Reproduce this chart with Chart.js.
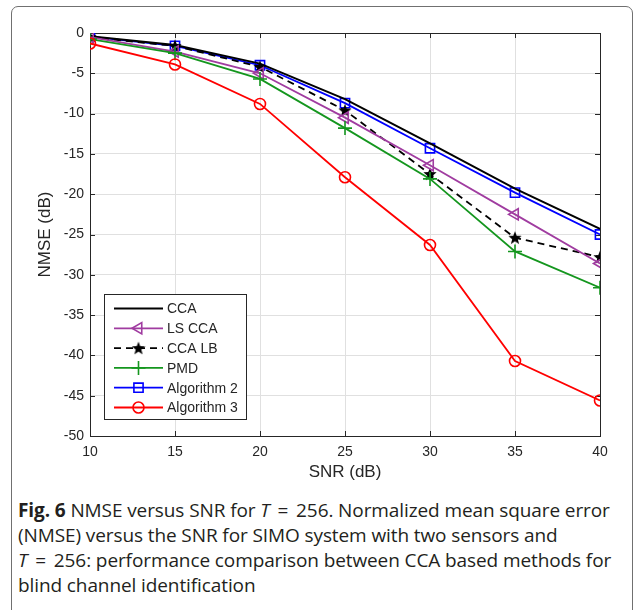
<!DOCTYPE html>
<html>
<head>
<meta charset="utf-8">
<script src="https://cdn.jsdelivr.net/npm/chart.js@4"></script>
<style>
    body { margin: 0; background: #fff; }
    .page { position: relative; width: 633px; height: 610px; overflow: hidden; }
    .frame {
        position: absolute; left: 11px; top: 6px; width: 620px; height: 700px;
        border: 1.5px solid #707070; border-radius: 7px;
    }
    #chartBox { position: absolute; left: 0; top: 0; width: 633px; height: 490px; }
    .caption {
        position: absolute; left: 18px; top: 498px;
        font-family: "Open Sans", "Noto Sans", sans-serif; font-size: 19px; line-height: 25px;
        letter-spacing: -0.1px;
        color: #231f20; white-space: nowrap;
    }
    .caption b { font-weight: 700; }
    .caption .eq { padding: 0 3px; }
</style>
</head>
<body>
<div class="page">
    <div class="frame"></div>
    <div id="chartBox"><canvas id="nmseChart" width="633" height="490"></canvas></div>
    <div class="caption">
        <b>Fig. 6</b> NMSE versus SNR for <i>T</i> <span class="eq">=</span> 256. Normalized mean square error<br>
        (NMSE) versus the SNR for SIMO system with two sensors and<br>
        <i>T</i> <span class="eq">=</span> 256: performance comparison between CCA based methods for<br>
        blind channel identification
    </div>
</div>
<script>
// Data
const snr = [10, 15, 20, 25, 30, 35, 40];
const cca = [-0.4, -1.5, -3.8, -8.2, -13.7, -19.3, -24.3];
const lsCca = [-0.5, -2.3, -5.0, -10.5, -16.4, -22.5, -28.6];
const ccaLb = [-0.5, -1.6, -4.2, -9.6, -17.5, -25.4, -27.8];
const pmd = [-0.75, -2.5, -5.7, -11.8, -18.1, -27.1, -31.6];
const alg2 = [-0.45, -1.6, -4.0, -8.7, -14.3, -19.8, -25.0];
const alg3 = [-1.3, -3.9, -8.8, -17.9, -26.3, -40.7, -45.6];
const yTicks = [0, -5, -10, -15, -20, -25, -30, -35, -40, -45, -50];
const xTicks = [10, 15, 20, 25, 30, 35, 40];

const FONT = '"Liberation Sans", Arial, sans-serif';
const AXIS_COLOR = '#262626';

// filled 5-point star marker
function makeStar(size) {
    const c = document.createElement('canvas');
    c.width = size; c.height = size;
    const g = c.getContext('2d');
    const cx = size / 2, cy = size / 2 + 0.5, R = size / 2, r = R * 0.42;
    g.beginPath();
    for (let i = 0; i < 10; i++) {
        const rad = i % 2 === 0 ? R : r;
        const a = -Math.PI / 2 + i * Math.PI / 5;
        g.lineTo(cx + rad * Math.cos(a), cy + rad * Math.sin(a));
    }
    g.closePath();
    g.fillStyle = '#000';
    g.fill();
    return c;
}
const starImg = makeStar(14);

const toPoints = (vals) => vals.map((v, i) => ({ x: snr[i], y: v }));

function series(label, vals, color, extra) {
    return Object.assign({
        label: label,
        data: toPoints(vals),
        borderColor: color,
        backgroundColor: 'rgba(0,0,0,0)',
        pointBorderColor: color,
        pointBackgroundColor: 'rgba(0,0,0,0)',
        borderWidth: 1.8,
        pointBorderWidth: 1.6,
        pointRadius: 5.5,
        tension: 0
    }, extra);
}

const datasets = [
    series('Algorithm 3', alg3, '#ff0000', { pointStyle: 'circle', pointRadius: 5.5 }),
    series('PMD', pmd, '#14961e', { pointStyle: 'cross', pointRadius: 7 }),
    series('LS CCA', lsCca, '#a03ca0', { pointStyle: 'triangle', rotation: -90, pointRadius: 6.5 }),
    series('CCA LB', ccaLb, '#000000', { pointStyle: starImg, borderDash: [7, 5] }),
    series('CCA', cca, '#000000', { pointRadius: 0, borderWidth: 2 }),
    series('Algorithm 2', alg2, '#0000ff', { pointStyle: 'rect', pointRadius: 6.5 })
];
const legendOrder = ['CCA', 'LS CCA', 'CCA LB', 'PMD', 'Algorithm 2', 'Algorithm 3'];

// MATLAB-like box with inward ticks
const boxPlugin = {
    id: 'boxPlugin',
    beforeDatasetsDraw(chart) {
        const { ctx, chartArea: a, scales } = chart;
        ctx.save();
        ctx.strokeStyle = AXIS_COLOR;
        ctx.lineWidth = 1;
        ctx.strokeRect(a.left + 0.5, a.top + 0.5, a.right - a.left, a.bottom - a.top);
        const t = 5;
        ctx.beginPath();
        xTicks.forEach(v => {
            const x = Math.round(scales.x.getPixelForValue(v)) + 0.5;
            ctx.moveTo(x, a.bottom); ctx.lineTo(x, a.bottom - t);
            ctx.moveTo(x, a.top); ctx.lineTo(x, a.top + t);
        });
        yTicks.forEach(v => {
            const y = Math.round(scales.y.getPixelForValue(v)) + 0.5;
            ctx.moveTo(a.left, y); ctx.lineTo(a.left + t, y);
            ctx.moveTo(a.right, y); ctx.lineTo(a.right - t, y);
        });
        ctx.stroke();
        ctx.restore();
    },
    afterDatasetsDraw(chart) {
        // legend box in lower-left corner
        const { ctx } = chart;
        const bx = 104.5, by = 294.5, bw = 142, bh = 125, rowH = 19.8;
        ctx.save();
        ctx.fillStyle = '#fff';
        ctx.fillRect(bx, by, bw, bh);
        ctx.strokeStyle = AXIS_COLOR;
        ctx.lineWidth = 1;
        ctx.strokeRect(bx, by, bw, bh);
        ctx.font = '14px ' + FONT;
        ctx.textBaseline = 'middle';
        legendOrder.forEach((name, i) => {
            const idx = chart.data.datasets.findIndex(d => d.label === name);
            const ds = chart.data.datasets[idx];
            const y = by + 14 + i * rowH;
            ctx.save();
            ctx.strokeStyle = ds.borderColor;
            ctx.lineWidth = ds.borderWidth;
            ctx.setLineDash(ds.borderDash || []);
            ctx.beginPath();
            ctx.moveTo(114, y); ctx.lineTo(163, y);
            ctx.stroke();
            ctx.setLineDash([]);
            if (ds.pointRadius > 0) {
                ctx.lineWidth = ds.pointBorderWidth;
                ctx.fillStyle = ds.pointBackgroundColor;
                Chart.helpers.drawPoint(ctx, {
                    pointStyle: ds.pointStyle,
                    rotation: ds.rotation || 0,
                    radius: ds.pointRadius,
                    borderWidth: ds.pointBorderWidth
                }, 138.5, y);
            }
            ctx.restore();
            ctx.fillStyle = AXIS_COLOR;
            ctx.fillText(name, 167, y + 1);
        });
        ctx.restore();
    }
};

new Chart(document.getElementById('nmseChart'), {
    type: 'line',
    data: { datasets: datasets },
    plugins: [boxPlugin],
    options: {
        responsive: false,
        animation: false,
        layout: { padding: { top: 33, right: 33, left: 0, bottom: 0 } },
        plugins: { legend: { display: false }, tooltip: { enabled: false } },
        scales: {
            x: {
                type: 'linear', min: 10, max: 40,
                afterFit: (s) => { s.height = 54; },
                afterBuildTicks: (s) => { s.ticks = xTicks.map(v => ({ value: v })); },
                grid: { color: '#e0e0e0', drawTicks: false },
                border: { display: false },
                ticks: { color: AXIS_COLOR, font: { family: FONT, size: 14 }, padding: 8, maxRotation: 0 },
                title: { display: true, text: 'SNR (dB)', color: AXIS_COLOR, font: { family: FONT, size: 17 }, padding: { bottom: 7 } }
            },
            y: {
                min: -50, max: 0,
                afterFit: (s) => { s.width = 90; },
                afterBuildTicks: (s) => { s.ticks = yTicks.map(v => ({ value: v })); },
                grid: { color: '#e0e0e0', drawTicks: false },
                border: { display: false },
                ticks: { color: AXIS_COLOR, font: { family: FONT, size: 14 }, padding: 6 },
                title: { display: true, text: 'NMSE (dB)', color: AXIS_COLOR, font: { family: FONT, size: 17 }, padding: { top: 35 } }
            }
        }
    }
});
</script>
</body>
</html>
